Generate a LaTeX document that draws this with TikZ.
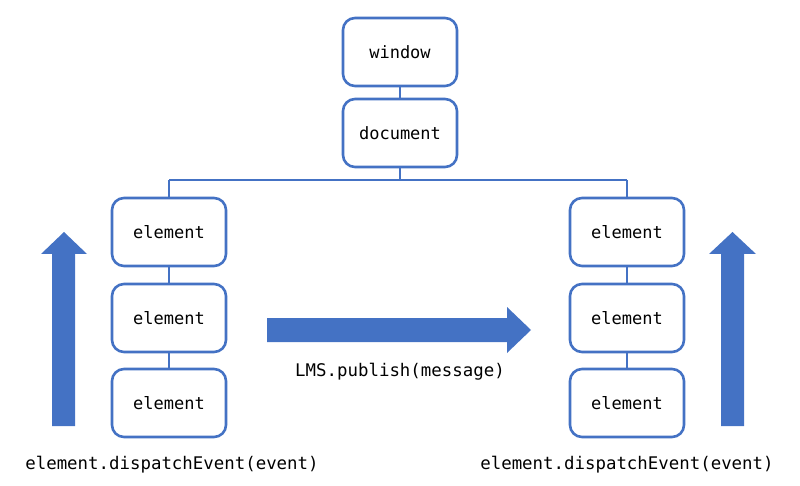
\documentclass[tikz,border=0pt]{standalone}
\usepackage{fontspec}
\setmonofont{DejaVu Sans Mono}
\definecolor{officeblue}{HTML}{4472C4}
\begin{document}
\begin{tikzpicture}[x=1pt,y=-1pt,
  box/.style={draw=officeblue, line width=2.6pt, rounded corners=12pt, fill=white,
    minimum width=114pt, minimum height=68pt, inner sep=0pt,
    font=\fontsize{17}{20}\selectfont\ttfamily},
  link/.style={draw=officeblue, line width=2pt},
  lbl/.style={font=\fontsize{17.4}{20}\selectfont\ttfamily, inner sep=0pt},
  bigarrow/.style={fill=officeblue, draw=none}]
\useasboundingbox (0,0) rectangle (800,486);
% connectors first
\coordinate (jL) at (169,180);
\coordinate (jR) at (627,180);
\coordinate (jM) at (400,180);
\node[box] (win) at (400,52) {window};
\node[box] (doc) at (400,133) {document};
\node[box] (l1) at (169,232) {element};
\node[box] (l2) at (169,318) {element};
\node[box] (l3) at (169,403) {element};
\node[box] (r1) at (627,232) {element};
\node[box] (r2) at (627,318) {element};
\node[box] (r3) at (627,403) {element};
\begin{scope}[on background layer/.try]
\end{scope}
\draw[link] (win.south) -- (doc.north);
\draw[link] (doc.south) -- (jM);
\draw[link] (jL) -- (jR);
\draw[link] (jL) -- (l1.north);
\draw[link] (jR) -- (r1.north);
\draw[link] (l1.south) -- (l2.north);
\draw[link] (l2.south) -- (l3.north);
\draw[link] (r1.south) -- (r2.north);
\draw[link] (r2.south) -- (r3.north);
% big arrows
\fill[bigarrow] (52,426) -- (52,254) -- (41,254) -- (64,232) -- (87,254) -- (75,254) -- (75,426) -- cycle;
\fill[bigarrow] (721,426) -- (721,254) -- (709,254) -- (732.5,232) -- (756,254) -- (744,254) -- (744,426) -- cycle;
\fill[bigarrow] (267,318) -- (507,318) -- (507,307) -- (531,330) -- (507,353) -- (507,342) -- (267,342) -- cycle;
\node[lbl] (pub) at (400,372) {LMS.publish(message)};
\node[lbl] (dl) at (172,465) {element.dispatchEvent(event)};
\node[lbl] (dr) at (627,465) {element.dispatchEvent(event)};
\end{tikzpicture}
\end{document}
